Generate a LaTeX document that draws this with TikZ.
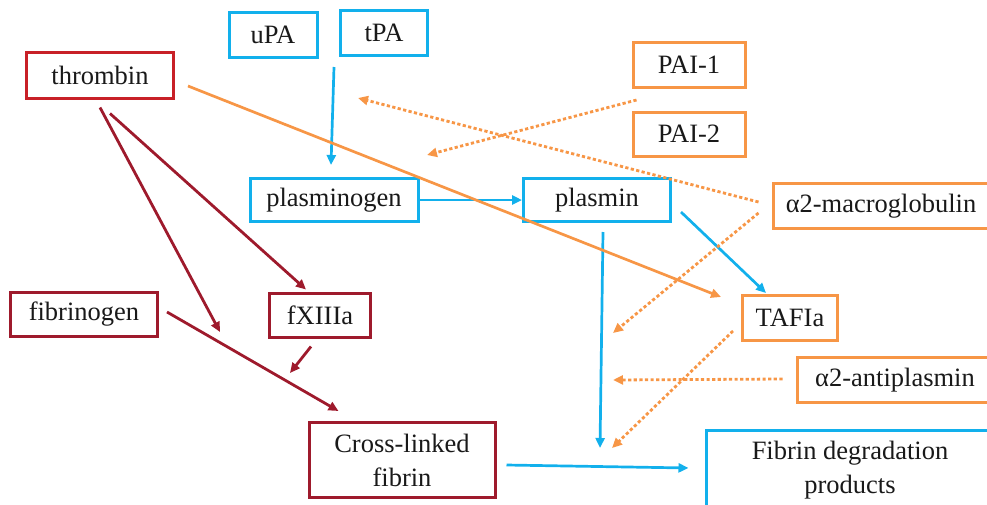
\documentclass[tikz,border=0pt]{standalone}
\usepackage{fontspec}
\setmainfont{Liberation Serif}
\usetikzlibrary{arrows.meta,calc}
\definecolor{cblue}{RGB}{18,176,236}
\definecolor{corange}{RGB}{247,150,70}
\definecolor{cred}{RGB}{200,32,40}
\definecolor{cmaroon}{RGB}{158,26,44}
\definecolor{ctext}{RGB}{25,25,25}
\tikzset{
  box/.style={draw, line width=3pt, fill=white, inner sep=0pt, align=center, text=ctext,
    font=\fontsize{26.5}{34}\selectfont},
  bluebox/.style={box, draw=cblue},
  orangebox/.style={box, draw=corange},
  redbox/.style={box, draw=cred},
  maroonbox/.style={box, draw=cmaroon},
  tip/.style={-{Triangle[length=10pt,width=9pt]}},
  bluearrow/.style={tip, draw=cblue, line width=2.7pt},
  orangearrow/.style={tip, draw=corange, line width=2.7pt},
  orangedot/.style={tip, draw=corange, line width=2.8pt, dash pattern=on 3.2pt off 2.4pt},
  maroonarrow/.style={tip, draw=cmaroon, line width=2.8pt},
}
\begin{document}
\begin{tikzpicture}[x=1pt,y=-1pt]
\useasboundingbox (0,0) rectangle (987,504);
\clip (0,0) rectangle (987,504);
% nodes
\node[bluebox, minimum width=88pt, minimum height=45pt] (upa) at (273,35) {uPA};
\node[bluebox, minimum width=87pt, minimum height=45pt] (tpa) at (384,33) {tPA};
\node[redbox, minimum width=147pt, minimum height=46pt] (thrombin) at (100,75) {thrombin};
\node[orangebox, minimum width=112pt, minimum height=45pt] (pai1) at (689,65) {PAI-1};
\node[orangebox, minimum width=112pt, minimum height=44pt] (pai2) at (689,134) {PAI-2};
\node[bluebox, minimum width=168pt, minimum height=43pt] (plasminogen) at (334,200) {plasminogen};
\node[bluebox, minimum width=147pt, minimum height=43pt] (plasmin) at (597,200) {plasmin};
\node[orangebox, minimum width=216pt, minimum height=45pt] (macro) at (881,206) {α2-macroglobulin};
\node[maroonbox, minimum width=147pt, minimum height=44pt] (fibrinogen) at (84,314) {fibrinogen};
\node[maroonbox, minimum width=101pt, minimum height=44pt] (fxiiia) at (320,315) {fXIIIa};
\node[orangebox, minimum width=95pt, minimum height=45pt] (tafia) at (790,318) {TAFIa};
\node[orangebox, minimum width=196pt, minimum height=45pt] (antipl) at (895,380) {α2-antiplasmin};
\node[maroonbox, minimum width=186pt, minimum height=75pt] (cl) at (402,460) {Cross-linked\\fibrin};
\node[bluebox, minimum width=288pt, minimum height=80pt] (fdp) at (850,470) {Fibrin degradation\\products};
% free ends
\coordinate (lysis) at (600,448);
\coordinate (tpainh) at (358,98);
\coordinate (plginh) at (427,155);
\coordinate (plminh) at (613,333);
\coordinate (apinh) at (613,380);
\coordinate (lysisinh) at (612,448);
\coordinate (fibform) at (220,332);
\coordinate (xlink) at (290,373);
% blue connectors
\draw[bluearrow] ($(tpa.south west)+(-5,10)$) -- ($(plasminogen.north)+(-3,-12)$);
\draw[bluearrow] (plasminogen.east) -- (plasmin.west);
\draw[bluearrow] ($(plasmin.east)+(9,12)$) -- ($(tafia.north west)+(25,-1)$);
\draw[bluearrow] ($(plasmin.south)+(6,9)$) -- (lysis);
\draw[bluearrow] ($(cl.east)+(10,5)$) -- ($(fdp.west)+(-16,-2)$);
% orange connectors
\draw[orangearrow] ($(thrombin.east)+(13,11)$) -- ($(tafia.west)+(-20,-21)$);
\draw[orangedot] ($(pai1.south west)+(5,11)$) -- (plginh);
\draw[orangedot] ($(macro.west)+(-13,-4)$) -- (tpainh);
\draw[orangedot] ($(macro.west)+(-13,7)$) -- (plminh);
\draw[orangedot] ($(tafia.south west)+(-8,-11)$) -- (lysisinh);
\draw[orangedot] ($(antipl.west)+(-13,-1)$) -- (apinh);
% maroon connectors
\draw[maroonarrow] ($(thrombin.south)+(0,8)$) -- (fibform);
\draw[maroonarrow] ($(thrombin.south)+(10,14)$) -- ($(fxiiia.north west)+(38,-2)$);
\draw[maroonarrow] ($(fibrinogen.east)+(8,-2)$) -- ($(cl.north west)+(31,-10)$);
\draw[maroonarrow] ($(fxiiia.south)+(-9,8)$) -- (xlink);
\end{tikzpicture}
\end{document}
